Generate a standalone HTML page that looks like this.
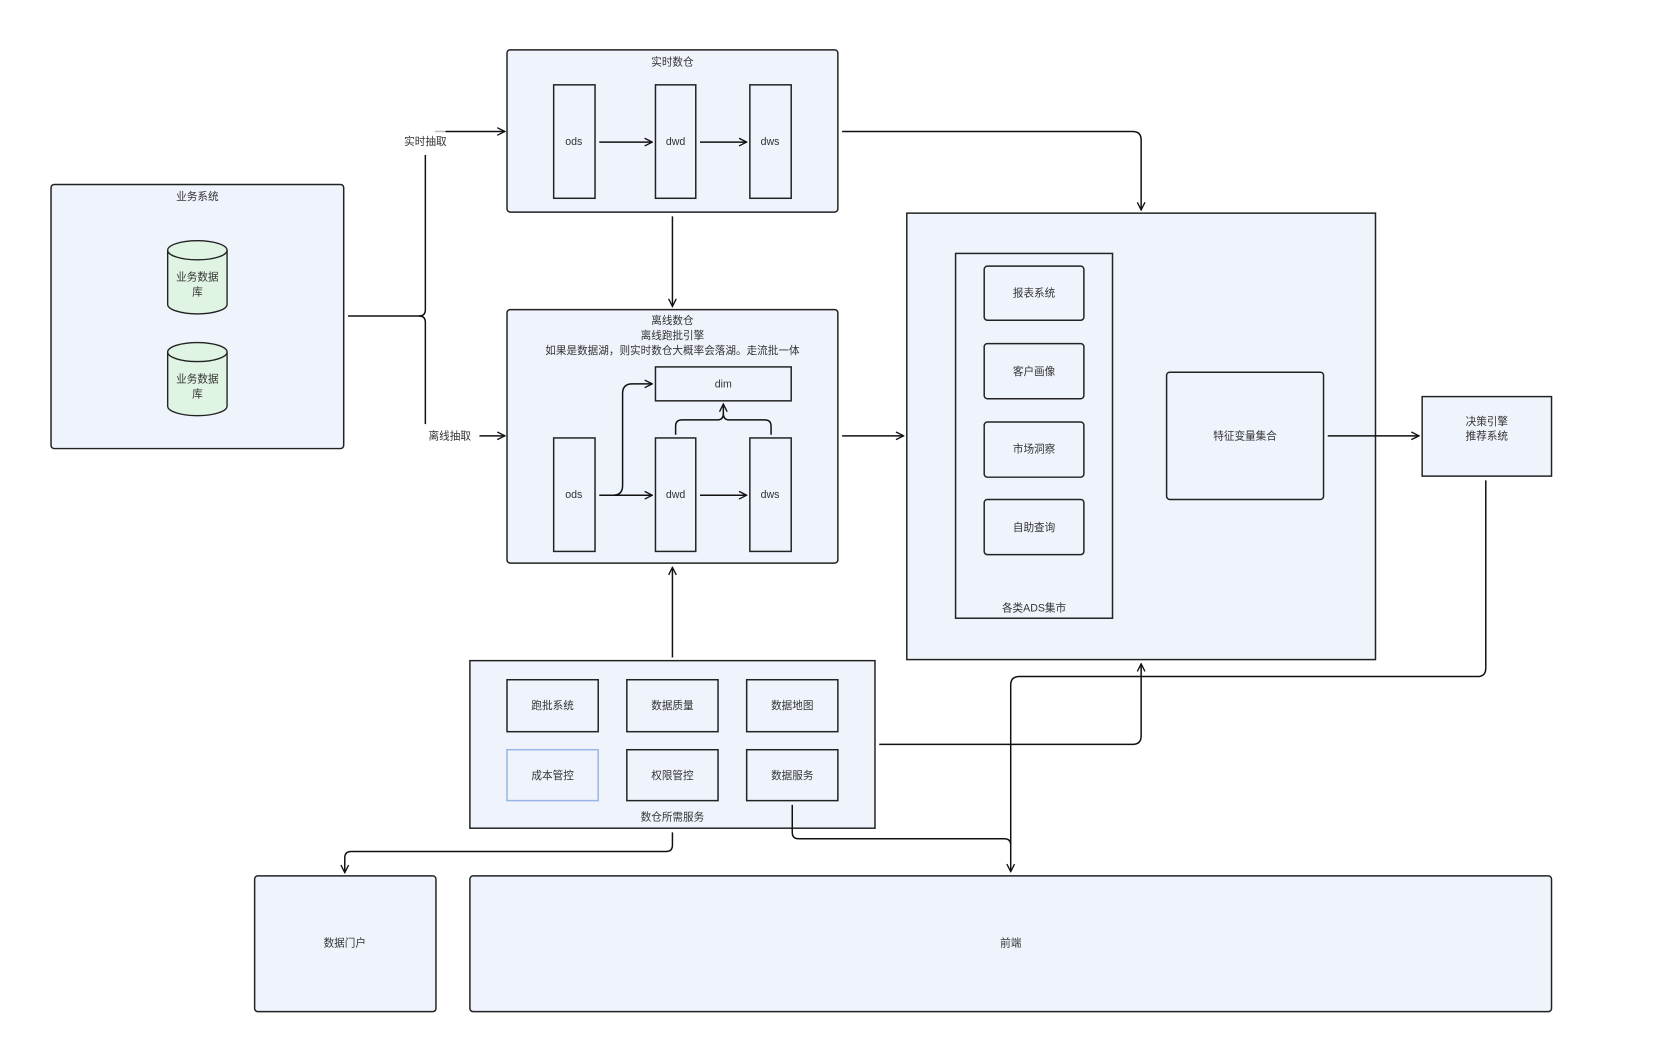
<!DOCTYPE html>
<html><head><meta charset="utf-8"><style>
html,body{margin:0;padding:0;background:#fff;width:1663px;height:1053px;overflow:hidden}
svg text{font-family:"Liberation Sans","Noto Sans CJK SC",sans-serif;font-size:10px;fill:#333;text-anchor:middle;dominant-baseline:middle}
</style></head><body>
<svg width="1663" height="1053" viewBox="0 0 1568 993" xmlns="http://www.w3.org/2000/svg">
<defs>
<marker id="a" viewBox="0 0 10 10" refX="9" refY="5" markerWidth="9" markerHeight="9" orient="auto" markerUnits="userSpaceOnUse"><path d="M1,1 L9,5 L1,9" fill="none" stroke="#111" stroke-width="1.4"/></marker>
</defs>
<g fill="#eff3fc" stroke="#222" stroke-width="1.4">
<rect x="48" y="174" width="276" height="249" rx="3"/>
<rect x="478" y="47" width="312" height="153" rx="3"/>
<rect x="478" y="292" width="312" height="239" rx="3"/>
<rect x="855" y="201" width="442" height="421"/>
<rect x="901" y="239" width="148" height="344"/>
<rect x="928" y="251" width="94" height="51" rx="3"/>
<rect x="928" y="324" width="94" height="52" rx="3"/>
<rect x="928" y="398" width="94" height="52" rx="3"/>
<rect x="928" y="471" width="94" height="52" rx="3"/>
<rect x="1100" y="351" width="148" height="120" rx="3"/>
<rect x="1341" y="374" width="122" height="75"/>
<rect x="443" y="623" width="382" height="158"/>
<rect x="478" y="641" width="86" height="49"/>
<rect x="591" y="641" width="86" height="49"/>
<rect x="704" y="641" width="86" height="49"/>
<rect x="478" y="707" width="86" height="48" stroke="#9ab4e8"/>
<rect x="591" y="707" width="86" height="48"/>
<rect x="704" y="707" width="86" height="48"/>
<rect x="240" y="826" width="171" height="128" rx="3"/>
<rect x="443" y="826" width="1020" height="128" rx="3"/>
<rect x="522" y="80" width="39" height="107"/>
<rect x="618" y="80" width="38" height="107"/>
<rect x="707" y="80" width="39" height="107"/>
<rect x="522" y="413" width="39" height="107"/>
<rect x="618" y="413" width="38" height="107"/>
<rect x="707" y="413" width="39" height="107"/>
<rect x="618" y="346" width="128" height="32"/>
</g>
<g fill="#dff4e3" stroke="#222" stroke-width="1.3">
<path d="M158,236 L158,287 A28,9 0 0 0 214,287 L214,236"/><ellipse cx="186" cy="236" rx="28" ry="9"/>
<path d="M158,332 L158,383 A28,9 0 0 0 214,383 L214,332"/><ellipse cx="186" cy="332" rx="28" ry="9"/>
</g>
<g fill="none" stroke="#111" stroke-width="1.4">
<path d="M328,298 H395 Q401,298 401,292 V146"/>
<path d="M395,298 Q401,298 401,304 V400"/>
<path d="M420,124 H476" marker-end="url(#a)"/>
<path d="M410,124 H420" stroke="#bbb"/>
<path d="M452,411 H476" marker-end="url(#a)"/>
<path d="M565,134 H615" marker-end="url(#a)"/>
<path d="M660,134 H704" marker-end="url(#a)"/>
<path d="M634,204 V289" marker-end="url(#a)"/>
<path d="M565,467 H615" marker-end="url(#a)"/>
<path d="M660,467 H704" marker-end="url(#a)"/>
<path d="M578,467 Q587,467 587,458 V371 Q587,362 596,362 H615" marker-end="url(#a)"/>
<path d="M637,410 V402 Q637,396 643,396 H676 Q682,396 682,390"/>
<path d="M727,410 V402 Q727,396 721,396 H688 Q682,396 682,390 V381" marker-end="url(#a)"/>
<path d="M794,411 H852" marker-end="url(#a)"/>
<path d="M794,124 H1068 Q1076,124 1076,132 V198" marker-end="url(#a)"/>
<path d="M1252,411 H1338" marker-end="url(#a)"/>
<path d="M634,620 V535" marker-end="url(#a)"/>
<path d="M829,702 H1068 Q1076,702 1076,694 V626" marker-end="url(#a)"/>
<path d="M1401,453 V630 Q1401,638 1393,638 H961 Q953,638 953,646 V822" marker-end="url(#a)"/>
<path d="M747,759 V785 Q747,791 753,791 H947 Q953,791 953,797"/>
<path d="M634,785 V797 Q634,803 628,803 H331 Q325,803 325,809 V823" marker-end="url(#a)"/>
</g>
<text x="186" y="186">业务系统</text>
<text x="186" y="262">业务数据</text><text x="186" y="276">库</text>
<text x="186" y="358">业务数据</text><text x="186" y="372">库</text>
<text x="401" y="134">实时抽取</text>
<text x="424" y="412">离线抽取</text>
<text x="634" y="59">实时数仓</text>
<text x="541" y="134">ods</text><text x="637" y="134">dwd</text><text x="726" y="134">dws</text>
<text x="634" y="303">离线数仓</text>
<text x="634" y="317">离线跑批引擎</text>
<text x="634" y="331">如果是数据湖，则实时数仓大概率会落湖。走流批一体</text>
<text x="682" y="363">dim</text>
<text x="541" y="467">ods</text><text x="637" y="467">dwd</text><text x="726" y="467">dws</text>
<text x="975" y="277">报表系统</text>
<text x="975" y="351">客户画像</text>
<text x="975" y="424">市场洞察</text>
<text x="975" y="498">自助查询</text>
<text x="975" y="574">各类ADS集市</text>
<text x="1174" y="412">特征变量集合</text>
<text x="1402" y="398">决策引擎</text>
<text x="1402" y="412">推荐系统</text>
<text x="521" y="666">跑批系统</text>
<text x="634" y="666">数据质量</text>
<text x="747" y="666">数据地图</text>
<text x="521" y="732">成本管控</text>
<text x="634" y="732">权限管控</text>
<text x="747" y="732">数据服务</text>
<text x="634" y="771">数仓所需服务</text>
<text x="325" y="890">数据门户</text>
<text x="953" y="890">前端</text>
</svg>
</body></html>
